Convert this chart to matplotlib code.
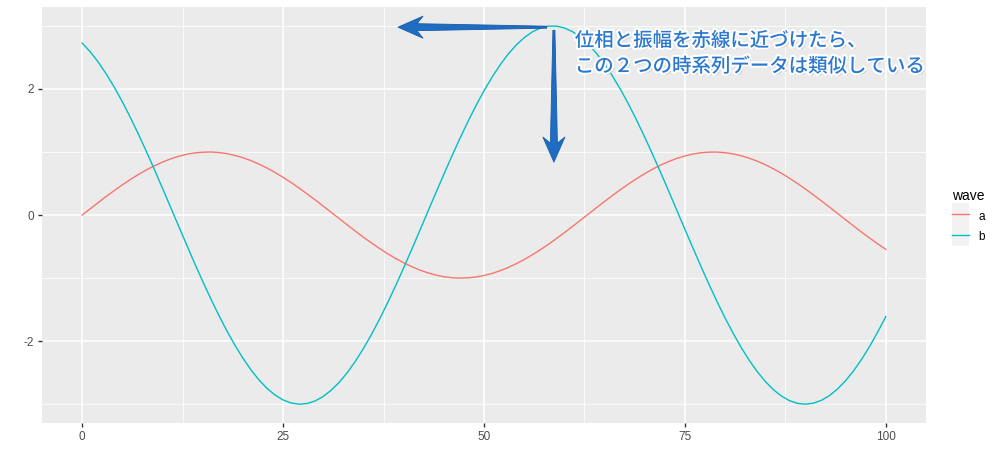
import matplotlib

matplotlib.use("Agg")
import matplotlib.pyplot as plt
import matplotlib.patheffects as pe
import numpy as np
from matplotlib.lines import Line2D
from matplotlib.patches import Polygon
from matplotlib.ticker import MultipleLocator

plt.rcParams["font.family"] = ["Liberation Sans", "Noto Sans CJK JP", "DejaVu Sans"]
plt.rcParams["axes.unicode_minus"] = False

# time index 0..100 and the two waves
x = list(range(101))
wave_a = [
    0.000, 0.100, 0.199, 0.296, 0.389, 0.479, 0.565, 0.644, 0.717, 0.783,
    0.841, 0.891, 0.932, 0.964, 0.985, 0.997, 1.000, 0.992, 0.974, 0.946,
    0.909, 0.863, 0.808, 0.746, 0.675, 0.598, 0.516, 0.427, 0.335, 0.239,
    0.141, 0.042, -0.058, -0.158, -0.256, -0.351, -0.443, -0.530, -0.612, -0.688,
    -0.757, -0.818, -0.872, -0.916, -0.952, -0.978, -0.994, -1.000, -0.996, -0.982,
    -0.959, -0.926, -0.883, -0.832, -0.773, -0.706, -0.631, -0.551, -0.465, -0.374,
    -0.279, -0.182, -0.083, 0.017, 0.117, 0.215, 0.312, 0.405, 0.494, 0.578,
    0.657, 0.729, 0.794, 0.850, 0.899, 0.938, 0.968, 0.988, 0.998, 0.999,
    0.989, 0.970, 0.941, 0.902, 0.855, 0.799, 0.734, 0.663, 0.585, 0.501,
    0.412, 0.319, 0.223, 0.125, 0.025, -0.075, -0.174, -0.272, -0.366, -0.458,
    -0.544,
]
wave_b = [
    2.728, 2.590, 2.426, 2.237, 2.027, 1.796, 1.547, 1.282, 1.005, 0.718,
    0.423, 0.125, -0.175, -0.473, -0.767, -1.052, -1.328, -1.589, -1.836, -2.063,
    -2.270, -2.455, -2.615, -2.749, -2.855, -2.933, -2.981, -3.000, -2.989, -2.948,
    -2.877, -2.777, -2.651, -2.497, -2.318, -2.117, -1.894, -1.652, -1.394, -1.122,
    -0.838, -0.547, -0.249, 0.050, 0.350, 0.645, 0.935, 1.214, 1.482, 1.735,
    1.971, 2.187, 2.381, 2.551, 2.696, 2.814, 2.904, 2.965, 2.996, 2.997,
    2.968, 2.910, 2.822, 2.707, 2.564, 2.396, 2.203, 1.989, 1.755, 1.503,
    1.236, 0.957, 0.669, 0.374, 0.074, -0.226, -0.523, -0.815, -1.100, -1.373,
    -1.632, -1.875, -2.100, -2.303, -2.483, -2.639, -2.768, -2.870, -2.943, -2.987,
    -3.000, -2.984, -2.938, -2.862, -2.758, -2.627, -2.468, -2.286, -2.081, -1.854,
    -1.610,
]
series = {"a": wave_a, "b": wave_b}
colors = {"a": "#F8766D", "b": "#00BFC4"}

note = "位相と振幅を赤線に近づけたら、\nこの２つの時系列データは類似している"


def tapered_arrow(ax, tail, tip, color="#1F6DC2"):
    """Chevron-headed arrow whose shaft widens from tail to head (sizes in pixels)."""
    to_px = ax.transData
    t0, t1 = to_px.transform(tail), to_px.transform(tip)
    u = (t1 - t0) / np.linalg.norm(t1 - t0)
    n = np.array([-u[1], u[0]])
    base = t1 - 19 * u
    pts = [t0 + 1.0 * n, base + 3.5 * n, base - 6 * u + 11 * n, t1,
           base - 6 * u - 11 * n, base - 3.5 * n, t0 - 1.0 * n]
    pts = to_px.inverted().transform(np.array(pts))
    ax.add_patch(Polygon(pts, closed=True, fc=color, ec="#1A5BA5", lw=0.6,
                         joinstyle="round", zorder=4))


fig = plt.figure(figsize=(10, 4.67), dpi=100)
ax = fig.add_axes([0.042, 0.094, 0.884, 0.891])
ax.set_facecolor("#EBEBEB")
for s in ax.spines.values():
    s.set_visible(False)

ax.xaxis.set_major_locator(MultipleLocator(25))
ax.xaxis.set_minor_locator(MultipleLocator(12.5))
ax.yaxis.set_major_locator(MultipleLocator(2))
ax.yaxis.set_minor_locator(MultipleLocator(1))
ax.grid(which="major", color="white", lw=1.1)
ax.grid(which="minor", color="white", lw=0.55)
ax.set_axisbelow(True)
ax.tick_params(which="major", length=3, width=1, color="#333333",
               labelcolor="#4D4D4D", labelsize=8.5, pad=3)
ax.tick_params(which="minor", length=0)

for name, ys in series.items():
    ax.plot(x, ys, color=colors[name], lw=1.0, label=name)

ax.set_xlim(-5, 105)
ax.set_ylim(-3.3, 3.3)

# annotation arrows from the peak of b
tapered_arrow(ax, (57.8, 2.98), (39.3, 2.98))
tapered_arrow(ax, (58.7, 2.93), (58.7, 0.84))

ax.text(61.3, 2.56, note, fontsize=14, color="#2A78CF", linespacing=1.45,
        va="center", ha="left", family=["Noto Sans CJK JP", "DejaVu Sans"],
        weight="medium",
        path_effects=[pe.withSimplePatchShadow(offset=(1.3, -1.3), shadow_rgbFace="#8C8C8C", alpha=0.7),
                      pe.withStroke(linewidth=3, foreground="white")])

handles = [Line2D([], [], color=colors[n], lw=1.0) for n in series]
leg = fig.legend(handles, list(series), title="wave", loc="center left",
                 bbox_to_anchor=(0.941, 0.537), frameon=False, fontsize=8.5,
                 title_fontsize=10, handlelength=1.5, handleheight=1.5,
                 labelspacing=0.5, handletextpad=0.8)
leg._legend_box.align = "left"
for h in leg.legend_handles:
    h.set_path_effects([pe.Stroke(linewidth=15.5, foreground="#F2F2F2", capstyle="butt"),
                        pe.Normal()])

fig.savefig("out.png", dpi=100)
